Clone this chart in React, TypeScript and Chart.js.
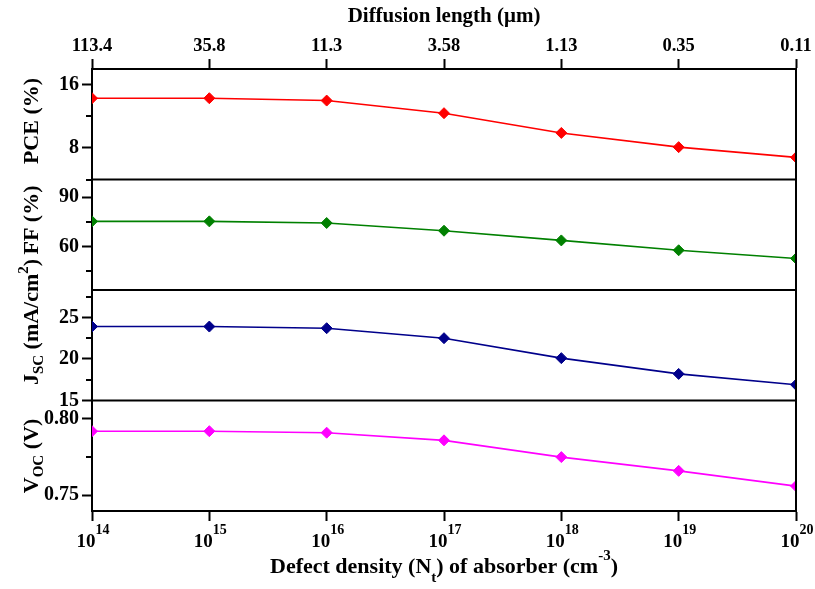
import { useEffect, useRef } from 'react';
import { Chart, registerables } from 'chart.js';

Chart.register(...registerables);

// Defect density of the absorber (cm^-3) and the matching diffusion length (µm)
const defectDensity = [1e14, 1e15, 1e16, 1e17, 1e18, 1e19, 1e20];
const diffusionLength = ['113.4', '35.8', '11.3', '3.58', '1.13', '0.35', '0.11'];

// Device parameters
const pce = [14.3, 14.3, 14.0, 12.4, 9.9, 8.1, 6.8];
const ff = [75.3, 75.3, 74.3, 69.6, 63.7, 57.7, 52.7];
const jsc = [23.9, 23.9, 23.7, 22.5, 20.1, 18.2, 16.9];
const voc = [0.792, 0.792, 0.791, 0.786, 0.775, 0.766, 0.756];

// Tick values per panel
const pceTicks = [8, 16];
const pceMinor = [4, 12];
const ffTicks = [60, 90];
const ffMinor = [45, 75];
const jscTicks = [15, 20, 25];
const jscMinor = [17.5, 22.5, 27.5];
const vocTicks = [0.75, 0.8];
const vocMinor = [0.775];

const SERIF = "'Liberation Serif', 'Times New Roman', serif";
const font = (size: number) => `bold ${size}px ${SERIF}`;

type Seg = { t: string; sub?: boolean; sup?: boolean };

// Draws a line of text with sub/superscript pieces, centred on (x, y) baseline.
function drawRich(
  ctx: CanvasRenderingContext2D,
  segs: Seg[],
  x: number,
  y: number,
  size: number,
  small: number,
  subShift: number,
  supShift: number,
) {
  let total = 0;
  const widths = segs.map((s) => {
    ctx.font = font(s.sub || s.sup ? small : size);
    const w = ctx.measureText(s.t).width;
    total += w;
    return w;
  });
  let cx = x - total / 2;
  ctx.textAlign = 'left';
  ctx.textBaseline = 'alphabetic';
  segs.forEach((s, i) => {
    ctx.font = font(s.sub || s.sup ? small : size);
    const dy = s.sub ? subShift : s.sup ? -supShift : 0;
    ctx.fillText(s.t, cx, y + dy);
    cx += widths[i];
  });
}

const panelTitles: { axis: string; segs: Seg[]; cy: number }[] = [
  { axis: 'yPce', segs: [{ t: 'PCE (%)' }], cy: 121 },
  { axis: 'yFf', segs: [{ t: 'FF (%)' }], cy: 220 },
  {
    axis: 'yJsc',
    segs: [{ t: 'J' }, { t: 'SC', sub: true }, { t: ' (mA/cm' }, { t: '2', sup: true }, { t: ')' }],
    cy: 322,
  },
  { axis: 'yVoc', segs: [{ t: 'V' }, { t: 'OC', sub: true }, { t: ' (V)' }], cy: 456 },
];

const minorTicks: Record<string, number[]> = {
  yPce: pceMinor,
  yFf: ffMinor,
  yJsc: jscMinor,
  yVoc: vocMinor,
};

const framePlugin = {
  id: 'panelFrame',
  afterDraw(chart: any) {
    const ctx: CanvasRenderingContext2D = chart.ctx;
    const { left, right, top, bottom } = chart.chartArea;
    ctx.save();
    ctx.strokeStyle = '#000';
    ctx.lineWidth = 2;
    // right edge
    ctx.beginPath();
    ctx.moveTo(right, top - 1);
    ctx.lineTo(right, bottom + 1);
    ctx.stroke();
    // separators between stacked panels
    ['yPce', 'yFf', 'yJsc'].forEach((id) => {
      const s = chart.scales[id];
      ctx.beginPath();
      ctx.moveTo(left, s.bottom);
      ctx.lineTo(right, s.bottom);
      ctx.stroke();
    });
    // minor ticks
    Object.keys(minorTicks).forEach((id) => {
      const s = chart.scales[id];
      minorTicks[id].forEach((v) => {
        const py = Math.round(s.getPixelForValue(v));
        ctx.beginPath();
        ctx.moveTo(s.right - 6, py);
        ctx.lineTo(s.right, py);
        ctx.stroke();
      });
    });

    ctx.fillStyle = '#000';
    // rotated panel titles
    panelTitles.forEach((p) => {
      ctx.save();
      ctx.translate(38, p.cy);
      ctx.rotate(-Math.PI / 2);
      drawRich(ctx, p.segs, 0, 0, 22, 15, 5, 10);
      ctx.restore();
    });

    // bottom decade labels
    const xs = chart.scales.x;
    defectDensity.forEach((v) => {
      const px = xs.getPixelForValue(v);
      const exp = Math.round(Math.log10(v));
      drawRich(ctx, [{ t: '10' }, { t: String(exp), sup: true }], px + 1, 547, 19, 14, 0, 13);
    });

    // bottom axis title
    drawRich(
      ctx,
      [
        { t: 'Defect density (N' },
        { t: 't', sub: true },
        { t: ') of absorber (cm' },
        { t: '-3', sup: true },
        { t: ')' },
      ],
      (left + right) / 2,
      573,
      22,
      15,
      9,
      13,
    );
    ctx.restore();
  },
};

const yAxis = (
  min: number,
  max: number,
  major: number[],
  weight: number,
  digits: number,
) => ({
  type: 'linear' as const,
  position: 'left' as const,
  stack: 'panels',
  stackWeight: 1,
  weight,
  min,
  max,
  afterBuildTicks: (s: any) => {
    s.ticks = major.map((v) => ({ value: v }));
  },
  afterFit: (s: any) => {
    s.width = 92;
  },
  grid: {
    drawOnChartArea: false,
    drawTicks: true,
    tickLength: 10,
    tickWidth: 2,
    tickColor: '#000',
    color: '#000',
  },
  border: { display: true, color: '#000', width: 2 },
  ticks: {
    color: '#000',
    padding: 3,
    font: { family: SERIF, size: 20, weight: 'bold' as const },
    callback: (v: any) => Number(v).toFixed(digits),
  },
});

const seriesStyle = (color: string) => ({
  borderColor: color,
  backgroundColor: color,
  pointBackgroundColor: color,
  pointBorderColor: color,
  pointStyle: 'rectRot' as const,
  pointRadius: 5.5,
  pointBorderWidth: 1,
  borderWidth: 1.6,
  tension: 0,
});

const toPoints = (vals: number[]) => defectDensity.map((x, i) => ({ x, y: vals[i] }));

export default function App() {
  const canvasRef = useRef<HTMLCanvasElement>(null);

  useEffect(() => {
    const canvas = canvasRef.current;
    if (!canvas) return;
    const decadeTicks = (s: any) => {
      s.ticks = defectDensity.map((v) => ({ value: v }));
    };
    // fixed axis band height, no extra side padding from edge labels
    const fixHeight = (h: number) => (s: any) => {
      s.height = h;
      s.paddingLeft = 0;
      s.paddingRight = 0;
    };
    const chart = new Chart(canvas, {
      type: 'line',
      data: {
        datasets: [
          { label: 'PCE', data: toPoints(pce), yAxisID: 'yPce', ...seriesStyle('#ff0000') },
          { label: 'FF', data: toPoints(ff), yAxisID: 'yFf', ...seriesStyle('#008000') },
          { label: 'Jsc', data: toPoints(jsc), yAxisID: 'yJsc', ...seriesStyle('#00008b') },
          { label: 'Voc', data: toPoints(voc), yAxisID: 'yVoc', ...seriesStyle('#ff00ff') },
        ],
      },
      options: {
        responsive: false,
        animation: false,
        devicePixelRatio: 1,
        layout: { padding: { left: 0, right: 19, top: 0, bottom: 0 } },
        plugins: {
          legend: { display: false },
          tooltip: { enabled: false },
        },
        scales: {
          x: {
            type: 'logarithmic',
            position: 'bottom',
            min: 1e14,
            max: 1e20,
            afterBuildTicks: decadeTicks,
            afterFit: fixHeight(78),
            grid: {
              drawOnChartArea: false,
              drawTicks: true,
              tickLength: 10,
              tickWidth: 2,
              tickColor: '#000',
              color: '#000',
            },
            border: { display: true, color: '#000', width: 2 },
            ticks: { display: false },
          },
          x2: {
            type: 'logarithmic',
            position: 'top',
            min: 1e14,
            max: 1e20,
            afterBuildTicks: decadeTicks,
            afterFit: fixHeight(69),
            grid: {
              drawOnChartArea: false,
              drawTicks: true,
              tickLength: 10,
              tickWidth: 2,
              tickColor: '#000',
              color: '#000',
            },
            border: { display: true, color: '#000', width: 2 },
            ticks: {
              color: '#000',
              padding: 2,
              maxRotation: 0,
              autoSkip: false,
              font: { family: SERIF, size: 18.5, weight: 'bold' },
              callback: (_v: any, i: number) => diffusionLength[i],
            },
            title: {
              display: true,
              text: 'Diffusion length (μm)',
              color: '#000',
              font: { family: SERIF, size: 21, weight: 'bold' },
              padding: { top: 4, bottom: 0 },
            },
          },
          yVoc: yAxis(0.7397, 0.8121, vocTicks, 1, 2),
          yJsc: yAxis(15, 28.3, jscTicks, 2, 0),
          yFf: yAxis(33.5, 100.8, ffTicks, 3, 0),
          yPce: yAxis(4, 18, pceTicks, 4, 0),
        },
      } as any,
      plugins: [framePlugin],
    });
    return () => chart.destroy();
  }, []);

  return (
    <div style={{ position: 'absolute', left: 0, top: 0, width: 815, height: 589, background: '#fff' }}>
      <canvas ref={canvasRef} width={815} height={589} style={{ display: 'block', width: 815, height: 589 }} />
    </div>
  );
}
